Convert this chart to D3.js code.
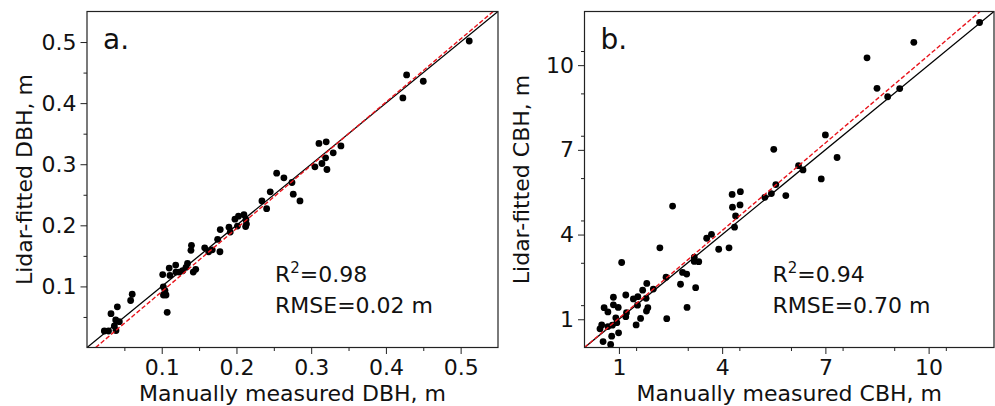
<!DOCTYPE html>
<html>
<head>
<meta charset="utf-8">
<script src="https://cdn.jsdelivr.net/npm/d3@7"></script>
<style>
  html, body { margin: 0; padding: 0; background: #fff; }
  svg { display: block; font-family: "DejaVu Sans", sans-serif; }
</style>
</head>
<body>
<svg id="chart" width="995" height="406"></svg>
<script>
// Panel a: diameter at breast height (manual vs lidar-fitted), metres
const dbhManual = [0.0232,0.0288,0.0321,0.0366,0.0388,0.0406,0.0384,0.0433,0.0584,0.0605,
  0.1021,0.1043,0.1023,0.1057,0.1073,
  0.1013,0.110,0.111,0.1187,0.119,0.1235,0.128,
  0.1345,0.1325,
  0.1398,0.1391,0.1455,0.1422,
  0.1575,0.1628,0.1676,0.1779,0.1748,0.1783,
  0.198,0.2027,0.210,0.2127,0.2134,0.2123,0.2013,0.190,0.1917,
  0.2341,0.2404,0.2452,0.2538,0.2635,0.2743,0.276,0.285,
  0.305,0.3144,0.3193,0.3211,0.3295,0.3398,0.3104,0.3201,
  0.4227,0.4277,0.450,0.5115];
const dbhLidar = [0.027,0.027,0.0553,0.0352,0.0278,0.0665,0.045,0.0422,0.0769,0.0872,
  0.0994,0.0932,0.0859,0.0859,0.0576,
  0.1194,0.130,0.118,0.1349,0.1235,0.1235,0.1256,
  0.1377,0.1312,
  0.1673,0.159,0.128,0.1235,
  0.1632,0.1567,0.1599,0.1567,0.177,0.193,
  0.2101,0.2150,0.2175,0.2093,0.2020,0.1979,0.1987,0.197,0.1889,
  0.240,0.2273,0.2548,0.2854,0.2777,0.2701,0.251,0.240,
  0.2957,0.3012,0.3104,0.2914,0.3186,0.330,0.334,0.3366,
  0.4085,0.4461,0.4358,0.5017];

// Panel b: crown base height (manual vs lidar-fitted), metres
const cbhManual = [11.48,9.57,8.21,8.50,8.81,9.16,7.0,5.50,7.34,6.22,6.35,6.88,5.85,5.43,5.56,
  4.53,4.29,4.30,4.52,4.39,4.36,5.24,
  2.56,3.55,3.69,3.90,4.20,2.19,1.08,3.19,3.19,3.32,2.85,2.97,2.37,2.79,3.23,2.98,2.39,
  2.0,1.81,1.69,1.79,1.55,1.42,1.54,1.84,1.80,1.20,1.22,1.20,1.63,1.50,
  0.98,0.84,0.84,0.57,0.68,0.91,0.94,0.81,0.68,0.50,0.45,0.99,0.79,0.54,0.76];
const cbhLidar = [11.51,10.81,10.26,9.18,8.88,9.17,7.53,7.02,6.73,6.44,6.29,5.97,5.38,5.45,5.77,
  5.52,5.42,4.97,5.05,4.66,4.26,5.32,
  5.01,3.87,4.01,3.48,3.53,3.53,3.01,3.20,3.05,3.04,2.66,2.60,2.49,2.24,2.12,1.42,1.02,
  2.07,2.27,2.03,1.74,1.80,1.72,1.50,1.41,1.29,1.86,1.23,1.09,1.03,0.80,
  1.42,1.51,1.78,1.41,1.26,1.05,0.88,0.79,0.74,0.80,0.66,0.52,0.40,0.21,0.11];

// Fitted regression lines [slope, intercept]
const dbhFit = [1.034, -0.012];
const cbhFit = [1.035, 0.0];

const dbhTicks = [0.1, 0.2, 0.3, 0.4, 0.5];
const dbhMinor = [0.05, 0.15, 0.25, 0.35, 0.45];
const cbhTicks = [1, 4, 7, 10];
const cbhMinor = [1.5, 3, 4.5, 6, 7.5, 9, 10.5];

const svg = d3.select("#chart");

function panel(opt) {
  const x = d3.scaleLinear().domain(opt.domain).range([opt.left, opt.right]);
  const y = d3.scaleLinear().domain(opt.domain).range([opt.bottom, opt.top]);
  const g = svg.append("g");

  const clipId = "clip-" + opt.tag;
  svg.append("clipPath").attr("id", clipId).append("rect")
    .attr("x", opt.left).attr("y", opt.top)
    .attr("width", opt.right - opt.left).attr("height", opt.bottom - opt.top);

  const plot = g.append("g").attr("clip-path", `url(#${clipId})`);

  // points
  plot.selectAll("circle").data(opt.xs.map((v, i) => [v, opt.ys[i]]))
    .join("circle")
    .attr("cx", d => x(d[0])).attr("cy", d => y(d[1]))
    .attr("r", 3.4).attr("fill", "#000");

  // 1:1 line
  const [d0, d1] = opt.domain;
  plot.append("line")
    .attr("x1", x(d0)).attr("y1", y(d0)).attr("x2", x(d1)).attr("y2", y(d1))
    .attr("stroke", "#000").attr("stroke-width", 1.3);

  // regression line
  const [a, b] = opt.fit;
  const xa = Math.max(d0, (d0 - b) / a), xb = Math.min(d1, (d1 - b) / a);
  plot.append("line")
    .attr("x1", x(xa)).attr("y1", y(a * xa + b)).attr("x2", x(xb)).attr("y2", y(a * xb + b))
    .attr("stroke", "#e8141c").attr("stroke-width", 1.4)
    .attr("stroke-dasharray", "4.5,2.2");

  // axes
  const fmt = opt.fmt;
  const xAxis = g.append("g").attr("transform", `translate(0,${opt.bottom})`)
    .call(d3.axisBottom(x).tickValues(opt.ticks).tickFormat(fmt).tickSize(6.5).tickPadding(5));
  const xMinor = g.append("g").attr("transform", `translate(0,${opt.bottom})`)
    .call(d3.axisBottom(x).tickValues(opt.minor).tickFormat("").tickSize(3.5));
  const yAxis = g.append("g").attr("transform", `translate(${opt.left},0)`)
    .call(d3.axisLeft(y).tickValues(opt.ticks).tickFormat(fmt).tickSize(6.5).tickPadding(4));
  const yMinor = g.append("g").attr("transform", `translate(${opt.left},0)`)
    .call(d3.axisLeft(y).tickValues(opt.minor).tickFormat("").tickSize(3.5));
  [xAxis, xMinor, yAxis, yMinor].forEach(ax => {
    ax.select(".domain").remove();
    ax.selectAll("line").attr("stroke", "#222").attr("stroke-width", 1);
    ax.selectAll("text").attr("font-size", 22).attr("fill", "#111")
      .attr("font-family", "DejaVu Sans, sans-serif");
  });
  xAxis.selectAll("text").attr("dy", "0.71em");

  // frame
  g.append("rect").attr("x", opt.left).attr("y", opt.top)
    .attr("width", opt.right - opt.left).attr("height", opt.bottom - opt.top)
    .attr("fill", "none").attr("stroke", "#222").attr("stroke-width", 1.2);

  // axis titles
  g.append("text").attr("x", (opt.left + opt.right) / 2).attr("y", 401)
    .attr("text-anchor", "middle").attr("font-size", 22).attr("fill", "#111")
    .text(opt.xTitle);
  g.append("text")
    .attr("transform", `translate(${opt.left - 55.5},${(opt.top + opt.bottom) / 2}) rotate(-90)`)
    .attr("text-anchor", "middle").attr("font-size", 22).attr("fill", "#111")
    .text(opt.yTitle);

  // panel letter
  g.append("text").attr("x", opt.left + 16).attr("y", 49)
    .attr("font-size", 28).attr("fill", "#111").text(opt.letter);

  // statistics
  const st = g.append("text").attr("x", opt.statX).attr("y", 282)
    .attr("font-size", 22).attr("fill", "#111");
  st.append("tspan").text("R");
  st.append("tspan").attr("font-size", 15).attr("dy", -9).text("2");
  st.append("tspan").attr("dy", 9).text("=" + opt.r2);
  g.append("text").attr("x", opt.statX).attr("y", 312.5)
    .attr("font-size", 22).attr("fill", "#111").text(`RMSE=${opt.rmse} m`);
}

panel({
  tag: "a", left: 87, right: 498, top: 11.5, bottom: 347.5, domain: [0, 0.55],
  xs: dbhManual, ys: dbhLidar, fit: dbhFit,
  ticks: dbhTicks, minor: dbhMinor, fmt: d3.format(".1f"),
  xTitle: "Manually measured DBH, m", yTitle: "Lidar-fitted DBH, m",
  letter: "a.", statX: 275, r2: "0.98", rmse: "0.02"
});

panel({
  tag: "b", left: 584.5, right: 994, top: 11.5, bottom: 347.5, domain: [0, 11.9],
  xs: cbhManual, ys: cbhLidar, fit: cbhFit,
  ticks: cbhTicks, minor: cbhMinor, fmt: d3.format("d"),
  xTitle: "Manually measured CBH, m", yTitle: "Lidar-fitted CBH, m",
  letter: "b.", statX: 772.5, r2: "0.94", rmse: "0.70"
});
</script>
</body>
</html>
